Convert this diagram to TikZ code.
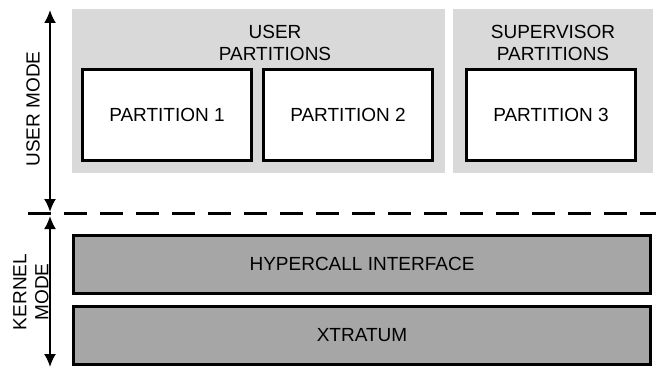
\documentclass[tikz,border=0pt]{standalone}
\usepackage{fontspec}
\setmainfont{Liberation Sans}
\usetikzlibrary{shapes,arrows,arrows.meta,positioning}
\definecolor{lightGray}{HTML}{D9D9D9}
\definecolor{darkGray}{HTML}{A6A6A6}
\tikzstyle{region} = [rectangle, fill=lightGray, inner sep=0pt]
\tikzstyle{partition} = [rectangle, draw, line width=1.5pt, fill=white, 
    text centered, minimum width=84.5pt, minimum height=45.5pt]
\tikzstyle{layer} = [rectangle, draw, line width=1.5pt, fill=darkGray, 
    text centered, minimum width=288.5pt, minimum height=29pt]
\tikzstyle{title} = [align=center, inner sep=0pt]
\tikzstyle{mode} = [rotate=90, align=center, inner sep=0pt]
\tikzstyle{span} = [draw, {Latex[length=6.5pt,width=6pt]}-{Latex[length=6.5pt,width=6pt]}, line width=1pt]

\begin{document}
\begin{tikzpicture}[x=0.5pt, y=-0.5pt, node distance=5pt, font=\fontsize{9.5}{11}\selectfont]
    \useasboundingbox (0,0) rectangle (656,369);

    \node[region, minimum width=186.5pt, minimum height=82pt] (userRegion) at (258.5,91) {};
    \node[region, minimum width=100pt, minimum height=82pt] (supervisorRegion) at (553,91) {};
    \node[title] (userTitle) at (275,43) {USER\\PARTITIONS};
    \node[title] (supervisorTitle) at (553,43) {SUPERVISOR\\PARTITIONS};

    \node[partition] (partitionOne) at (167,115) {PARTITION 1};
    \node[partition, right=4.5pt of partitionOne] (partitionTwo) {PARTITION 2};
    \node[partition] (partitionThree) at (551,115) {PARTITION 3};

    \node[layer] (hypercall) at (362,264) {HYPERCALL INTERFACE};
    \node[layer, below=5pt of hypercall] (xtratum) {XTRATUM};

    \node[mode] (userMode) at (33,109) {USER MODE};
    \node[mode] (kernelMode) at (31,292) {KERNEL\\MODE};

    \coordinate (userTop) at (50,10);
    \coordinate (userBottom) at (50,212);
    \coordinate (kernelTop) at (50,216);
    \coordinate (kernelBottom) at (50,367);
    \coordinate (borderLeft) at (28,213);
    \coordinate (borderRight) at (656,213);

    \path[draw,dash pattern=on 11.5pt off 6.5pt,line width=1.5pt] (borderLeft) -- (borderRight);
    \path[span] (userTop) -- (userBottom);
    \path[span] (kernelTop) -- (kernelBottom);
\end{tikzpicture}
\end{document}
